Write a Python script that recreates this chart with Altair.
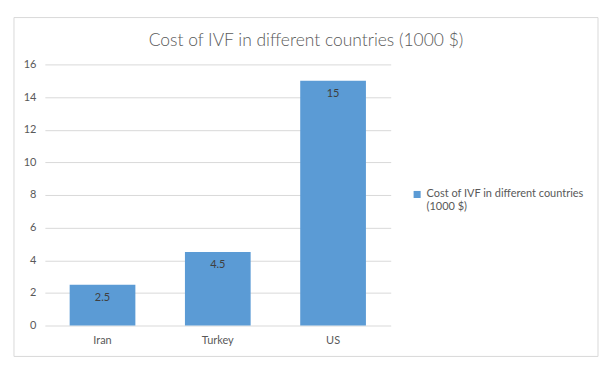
import altair as alt
import pandas as pd

countries = ["Iran", "Turkey", "US"]
costs = [2.5, 4.5, 15]
series_name = "Cost of IVF in different countries (1000 $)"

df = pd.DataFrame({"country": countries, "cost": costs, "series": [series_name] * 3})

FONT = "Lato"
GREY = "#595959"

base = alt.Chart(df).encode(
    x=alt.X("country:N", sort=countries,
            scale=alt.Scale(paddingInner=0.43, paddingOuter=0.215),
            axis=alt.Axis(title=None, labelAngle=0, ticks=False, domain=False,
                          labelPadding=9, labelFontSize=11, labelColor=GREY,
                          labelFont=FONT)),
    y=alt.Y("cost:Q", scale=alt.Scale(domain=[0, 16]),
            axis=alt.Axis(title=None, values=[0, 2, 4, 6, 8, 10, 12, 14, 16],
                          ticks=False, domain=False, gridColor="#d9d9d9",
                          labelPadding=9, labelFontSize=11, labelColor=GREY,
                          labelFont=FONT)),
)

bars = base.mark_bar(color="#5B9BD5").encode(
    color=alt.Color("series:N", scale=alt.Scale(range=["#5B9BD5"]),
                    legend=alt.Legend(title=None, orient="none", legendX=368,
                                      legendY=125, symbolType="square",
                                      symbolSize=50, labelFontSize=11,
                                      labelColor=GREY, labelFont=FONT,
                                      labelExpr="['Cost of IVF in different countries', '(1000 $)']",
                                      labelLimit=300)),
)

labels = base.mark_text(baseline="middle", dy=13, fontSize=11, color="#404040",
                        font=FONT).encode(text="cost:Q")

frame = alt.Chart(pd.DataFrame({"title": [series_name]}))

border = frame.mark_rect(
    fillOpacity=0, stroke="#d9d9d9", strokeWidth=1, clip=False
).encode(x=alt.value(-31), x2=alt.value(555), y=alt.value(-47), y2=alt.value(293))

title = frame.mark_text(fontSize=17.5, font=FONT, fontWeight=300, color=GREY,
                        align="center", baseline="alphabetic").encode(
    x=alt.value(262), y=alt.value(-18), text="title:N")

chart = alt.layer(border, title, bars, labels).properties(
    width=347, height=262,
    padding={"left": 37, "top": 56, "right": 212, "bottom": 36},
    autosize=alt.AutoSizeParams(type="none"),
).configure_view(stroke=None)

chart.save("out.html", embed_options={"renderer": "svg", "actions": False})
